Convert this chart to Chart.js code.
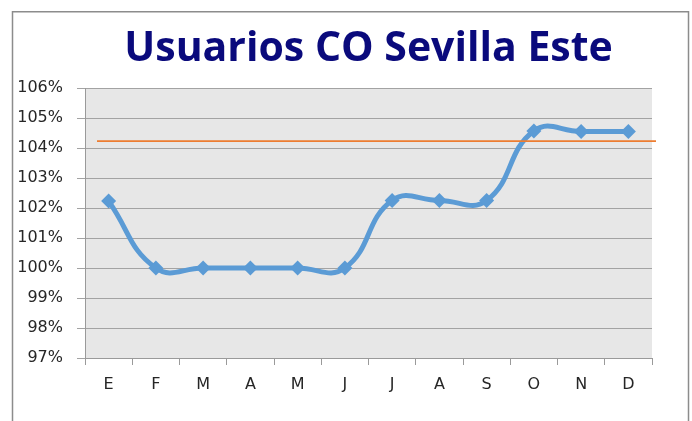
<!DOCTYPE html>
<html>
<head>
<meta charset="utf-8">
<script src="https://cdn.jsdelivr.net/npm/chart.js@4.4.0/dist/chart.umd.min.js"></script>
<style>
html,body{margin:0;padding:0;background:#fff;}
#wrap{width:692px;height:421px;}
</style>
</head>
<body>
<div id="wrap"><canvas id="c" width="692" height="421"></canvas></div>
<script>
const categories = ['E','F','M','A','M','J','J','A','S','O','N','D'];
const usuarios = [102.23, 100, 100, 100, 100, 100, 102.25, 102.25, 102.25, 104.57, 104.55, 104.55];
const objetivo = [104.23];
const yTicks = [97, 98, 99, 100, 101, 102, 103, 104, 105, 106];

const framePlugin = {
  id: 'frame',
  beforeDraw(chart) {
    const ctx = chart.ctx, a = chart.chartArea;
    ctx.save();
    ctx.fillStyle = '#fff';
    ctx.fillRect(0, 0, chart.width, chart.height);
    ctx.strokeStyle = '#8c8c8c';
    ctx.lineWidth = 1.5;
    ctx.strokeRect(12.5, 11.75, 676, 430);
    ctx.fillStyle = '#e7e7e7';
    ctx.fillRect(a.left, a.top, a.right - a.left, a.bottom - a.top);
    ctx.restore();
  },
  afterDatasetsDraw(chart) {
    const ctx = chart.ctx, a = chart.chartArea, y = chart.scales.y;
    ctx.save();
    ctx.strokeStyle = '#ed7d31';
    ctx.lineWidth = 1.6;
    objetivo.forEach(v => {
      const py = y.getPixelForValue(v);
      ctx.beginPath();
      ctx.moveTo(a.left + 12, py);
      ctx.lineTo(a.right + 4, py);
      ctx.stroke();
    });
    ctx.restore();
  }
};

new Chart(document.getElementById('c'), {
  type: 'line',
  data: {
    labels: categories,
    datasets: [{
      data: usuarios,
      borderColor: '#5b9bd5',
      backgroundColor: '#5b9bd5',
      borderWidth: 5,
      tension: 0.45,
      pointStyle: 'rectRot',
      pointRadius: 7.5,
      pointHoverRadius: 7.5,
      pointBorderWidth: 0,
      pointBackgroundColor: '#5b9bd5',
      fill: false
    }]
  },
  options: {
    responsive: false,
    animation: false,
    devicePixelRatio: 1,
    layout: { padding: { left: 0, right: 40, top: 0, bottom: 0 } },
    plugins: {
      legend: { display: false },
      tooltip: { enabled: false },
      title: {
        display: true,
        text: 'Usuarios CO Sevilla Este',
        fullSize: false,
        color: '#0a0a7c',
        font: { family: 'Open Sans', weight: 'bold', size: 41, lineHeight: 1.2 },
        padding: { top: 24.5, bottom: 14.3 }
      }
    },
    scales: {
      x: {
        type: 'category',
        offset: true,
        grid: {
          offset: true,
          drawOnChartArea: false,
          drawTicks: true,
          tickLength: 7,
          color: '#9a9a9a',
          lineWidth: 1
        },
        border: { display: true, color: '#9a9a9a', width: 1 },
        ticks: {
          color: '#262626',
          font: { family: 'DejaVu Sans', size: 16 },
          padding: 10,
          maxRotation: 0,
          autoSkip: false
        },
        afterFit(s) { s.height = 63; }
      },
      y: {
        min: 97,
        max: 106,
        afterBuildTicks(s) { s.ticks = yTicks.map(v => ({ value: v })); },
        grid: {
          color: '#a3a3a3',
          lineWidth: 1,
          drawTicks: true,
          tickLength: 8
        },
        border: { display: true, color: '#9a9a9a', width: 1 },
        ticks: {
          color: '#262626',
          font: { family: 'DejaVu Sans', size: 16 },
          padding: 14,
          callback: v => v + '%'
        },
        afterFit(s) { s.width = 85; }
      }
    }
  },
  plugins: [framePlugin]
});
</script>
</body>
</html>
